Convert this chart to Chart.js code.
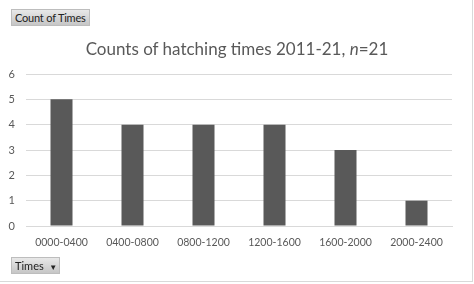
<!DOCTYPE html>
<html><head><meta charset="utf-8">
<script src="https://cdn.jsdelivr.net/npm/chart.js@4"></script>
<style>
html,body{margin:0;padding:0;background:#fff;}
#wrap{position:relative;width:474px;height:284px;overflow:hidden;font-family:Lato,"Open Sans",sans-serif;}
#c{position:absolute;left:0;top:0;}
.btn{position:absolute;height:17px;line-height:16px;font-size:11px;color:#222;padding:0 3px;box-sizing:border-box;white-space:nowrap;overflow:hidden;
background:linear-gradient(#e8e8e8,#c6c6c6);border:1px solid #bdbdbd;}
#b1{left:11px;top:9px;width:79px;letter-spacing:-0.2px;}
#b2{left:11px;top:257px;width:49px;}
#title{position:absolute;left:0;width:474px;top:38px;text-align:center;font-size:17px;color:#595959;}
#frame{position:absolute;left:0;top:0;width:472px;height:281px;border-right:1px solid #d9d9d9;border-bottom:1px solid #d9d9d9;}
</style></head>
<body><div id="wrap">
<canvas id="c" width="474" height="284"></canvas>
<div id="frame"></div>
<div class="btn" id="b1">Count of Times</div>
<div class="btn" id="b2">Times&nbsp;&nbsp;<span style="font-size:8px">&#9660;</span></div>
<div id="title">Counts of hatching times 2011-21, <i>n</i>=21</div>
</div>
<script>
const categories = ["0000-0400","0400-0800","0800-1200","1200-1600","1600-2000","2000-2400"];
const counts = [5,4,4,4,3,1];
const yTicks = [0,1,2,3,4,5,6];
new Chart(document.getElementById('c'), {
  type:'bar',
  data:{labels:categories,datasets:[{data:counts,backgroundColor:'#595959',borderWidth:0,categoryPercentage:1,barPercentage:0.31}]},
  options:{
    responsive:false,animation:false,
    layout:{padding:{left:0,right:22,top:74,bottom:0}},
    plugins:{legend:{display:false},tooltip:{enabled:false},title:{display:false}},
    scales:{
      x:{grid:{display:false,drawTicks:false},border:{display:true,color:'#d9d9d9'},
         ticks:{color:'#595959',font:{family:'Lato',size:10.5},padding:10,maxRotation:0},
         afterFit:s=>{s.height=58;}},
      y:{min:0,max:6,afterBuildTicks:s=>{s.ticks=yTicks.map(v=>({value:v}));},
         grid:{color:'#d9d9d9',drawTicks:false},border:{display:false},
         ticks:{color:'#595959',font:{family:'Lato',size:11},padding:11},
         afterFit:s=>{s.width=26;}}
    }
  }
});
</script>
</body></html>
